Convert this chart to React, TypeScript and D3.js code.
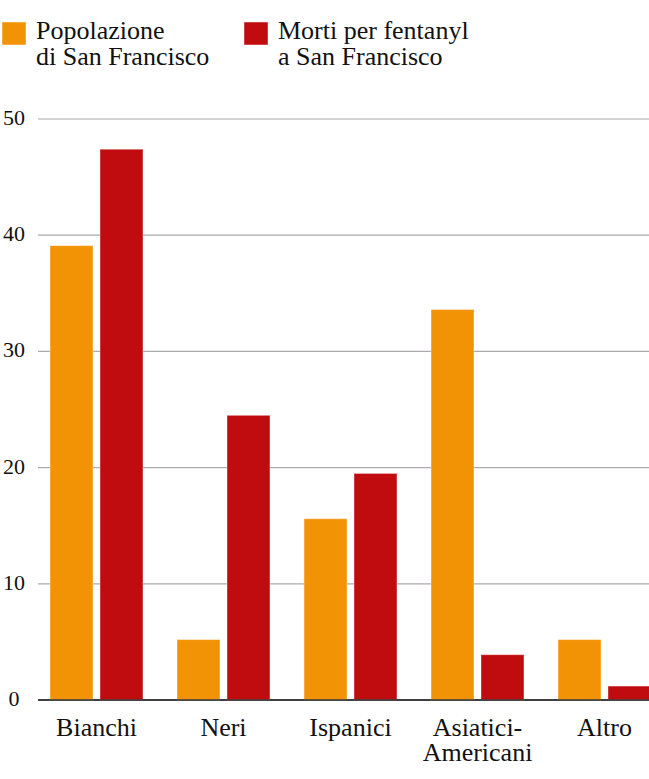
import React from "react";
import * as d3 from "d3";

const categories = ["Bianchi", "Neri", "Ispanici", "Asiatici-\nAmericani", "Altro"];
const seriesNames = ["Popolazione\ndi San Francisco", "Morti per fentanyl\na San Francisco"];
const popolazione = [39.1, 5.2, 15.6, 33.6, 5.2];
const morti = [47.4, 24.5, 19.5, 3.9, 1.2];
const yTicks = [0, 10, 20, 30, 40, 50];
const colors = ["#F29305", "#C00C0E"];

const W = 649;
const H = 779;
const FONT = "'Liberation Serif', 'DejaVu Serif', serif";

export default function App() {
  const series = [popolazione, morti];
  const x = d3.scaleBand<string>().domain(categories).range([33, 668]).paddingInner(0.268).paddingOuter(0.134);
  const xi = d3.scaleBand<number>().domain([0, 1]).range([0, x.bandwidth()]).paddingInner(0.14);
  const y = d3.scaleLinear().domain([0, 50]).range([700, 119]);

  return (
    <svg width={W} height={H} style={{ position: "absolute", left: 0, top: 0, background: "#fff" }} fontFamily={FONT}>
      {/* legend */}
      {seriesNames.map((name, i) => {
        const lx = i === 0 ? 2 : 244;
        return (
          <g key={name}>
            <rect x={lx} y={22} width={24} height={23} fill={colors[i]} stroke="rgba(255,255,255,0.45)" strokeWidth={1} />
            {name.split("\n").map((line, j) => (
              <text key={j} x={lx + 34} y={39 + j * 26} fontSize={26} fill="#111">
                {line}
              </text>
            ))}
          </g>
        );
      })}
      {/* grid */}
      {yTicks.map((t) => (
        <g key={t}>
          <line x1={38} x2={W} y1={y(t)} y2={y(t)} stroke={t === 0 ? "#333" : "#aaa"} strokeWidth={t === 0 ? 1.5 : 1.2} />
          <text x={14} y={y(t) + 6} fontSize={22} textAnchor="middle" fill="#111">
            {t}
          </text>
        </g>
      ))}
      {/* bars */}
      {categories.map((c, ci) => (
        <g key={c} transform={`translate(${x(c)},0)`}>
          {series.map((s, si) => (
            <rect
              key={si}
              x={xi(si)}
              y={y(s[ci])}
              width={xi.bandwidth()}
              height={y(0) - y(s[ci])}
              fill={colors[si]}
              stroke="rgba(255,255,255,0.4)"
              strokeWidth={1}
            />
          ))}
        </g>
      ))}
      <line x1={38} x2={W} y1={y(0)} y2={y(0)} stroke="#333" strokeWidth={1.5} />
      {/* category labels */}
      {categories.map((c) => (
        <text key={c} x={(x(c) as number) + x.bandwidth() / 2} y={736} fontSize={26} textAnchor="middle" fill="#111">
          {c.split("\n").map((line, j) => (
            <tspan key={j} x={(x(c) as number) + x.bandwidth() / 2} dy={j === 0 ? 0 : 24.5}>
              {line}
            </tspan>
          ))}
        </text>
      ))}
    </svg>
  );
}
